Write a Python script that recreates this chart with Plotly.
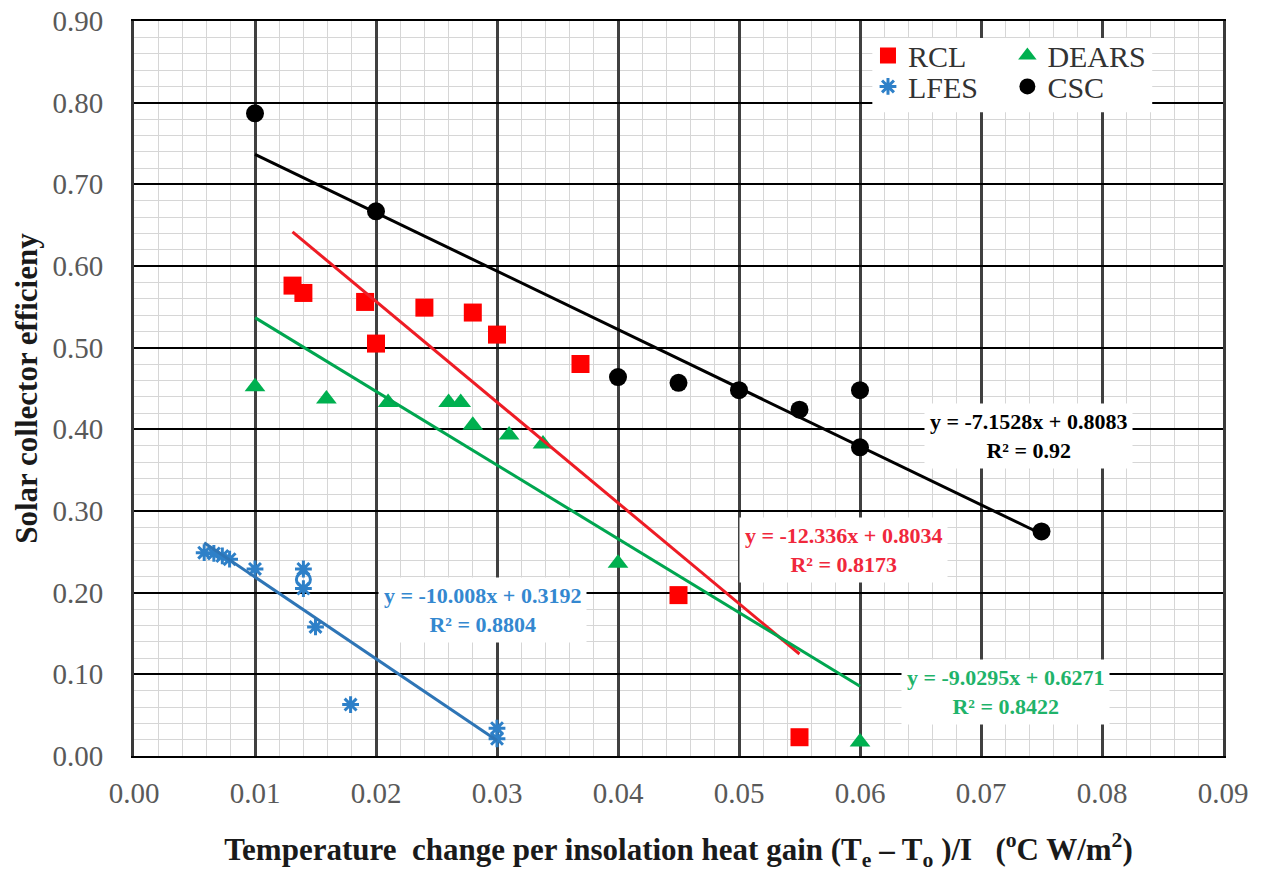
import plotly.graph_objects as go

# ---- measured efficiency data ----
rcl_x = [0.0131, 0.0140, 0.0191, 0.0200, 0.0240, 0.0280, 0.0300, 0.0369, 0.0450, 0.0550]
rcl_y = [0.576, 0.567, 0.556, 0.505, 0.549, 0.543, 0.516, 0.480, 0.197, 0.023]

dears_x = [0.0100, 0.0159, 0.0210, 0.0260, 0.0270, 0.0280, 0.0310, 0.0338, 0.0400, 0.0600]
dears_y = [0.452, 0.437, 0.433, 0.433, 0.433, 0.405, 0.393, 0.382, 0.236, 0.017]

lfes_x = [0.0058, 0.0066, 0.0073, 0.0079, 0.0100, 0.0140, 0.0140, 0.0140, 0.0150, 0.0179, 0.0300, 0.0300]
lfes_y = [0.249, 0.248, 0.245, 0.241, 0.229, 0.229, 0.216, 0.205, 0.158, 0.063, 0.034, 0.021]

csc_x = [0.010, 0.020, 0.040, 0.045, 0.050, 0.055, 0.060, 0.060, 0.075]
csc_y = [0.787, 0.667, 0.464, 0.457, 0.448, 0.424, 0.448, 0.378, 0.275]

# ---- linear trendline coefficients (slope, intercept, R²) ----
rcl_fit = (-12.336, 0.8034, 0.8173)
dears_fit = (-9.0295, 0.6271, 0.8422)
lfes_fit = (-10.008, 0.3192, 0.8804)
csc_fit = (-7.1528, 0.8083, 0.92)

x_ticks = [0.00, 0.01, 0.02, 0.03, 0.04, 0.05, 0.06, 0.07, 0.08, 0.09]
y_ticks = [0.00, 0.10, 0.20, 0.30, 0.40, 0.50, 0.60, 0.70, 0.80, 0.90]

SERIF = "Liberation Serif, Times New Roman, serif"

RED = "#ff0000"
GREEN = "#00b050"
BLUE = "#2e80c8"
BLACK = "#000000"

fig = go.Figure()

# scatter series, one legend block per entry so the 2x2 key can be laid out freely
fig.add_trace(go.Scatter(x=rcl_x, y=rcl_y, mode="markers", name="RCL", legend="legend",
                         marker=dict(symbol="square", size=18, color=RED)))
fig.add_trace(go.Scatter(x=lfes_x, y=lfes_y, mode="markers", name="LFES", legend="legend3",
                         marker=dict(symbol=["asterisk-open"] * 6 + ["circle-open"] + ["asterisk-open"] * 5,
                                     size=14, color=BLUE, line=dict(color=BLUE, width=3))))
fig.add_trace(go.Scatter(x=dears_x, y=dears_y, mode="markers", name="DEARS", legend="legend2",
                         marker=dict(symbol="triangle-up", size=18, color=GREEN)))
fig.add_trace(go.Scatter(x=csc_x, y=csc_y, mode="markers", name="CSC", legend="legend4",
                         marker=dict(symbol="circle", size=18, color=BLACK)))


def trend(xs, fit, color):
    m, b, _ = fit
    x0, x1 = min(xs), max(xs)
    return go.Scatter(x=[x0, x1], y=[m * x0 + b, m * x1 + b], mode="lines",
                      line=dict(color=color, width=3), showlegend=False, hoverinfo="skip")


fig.add_trace(trend(csc_x, csc_fit, BLACK))
fig.add_trace(trend(rcl_x, rcl_fit, "#ee1c25"))
fig.add_trace(trend(dears_x, dears_fit, "#00a650"))
fig.add_trace(trend(lfes_x, lfes_fit, "#2e75b6"))


def eq_label(fit):
    m, b, r2 = fit
    return f"<b>y = {m:g}x + {b:g}<br>R² = {r2:g}</b>"


labels = [
    (csc_fit, 0.0739, 0.392, BLACK),
    (rcl_fit, 0.0586, 0.252, "#f0283c"),
    (lfes_fit, 0.0288, 0.179, "#3488d0"),
    (dears_fit, 0.0720, 0.078, "#1fb36a"),
]
for fit, ax_x, ax_y, col in labels:
    fig.add_annotation(x=ax_x, y=ax_y, text=eq_label(fit), showarrow=False,
                       font=dict(family=SERIF, size=22, color=col),
                       bgcolor="white", borderpad=5, align="center")

# white backing behind the legend block (legends draw on top of it)
fig.add_shape(type="rect", xref="paper", yref="paper", x0=0.678, x1=0.935, y0=0.876, y1=0.977,
              fillcolor="white", line=dict(width=0), layer="above")

legend_style = dict(xanchor="left", yanchor="middle", bgcolor="rgba(0,0,0,0)",
                    font=dict(family=SERIF, size=30, color="#333333"), itemwidth=30)

fig.update_layout(
    width=1261, height=872,
    margin=dict(l=134, r=38, t=21, b=116),
    paper_bgcolor="white", plot_bgcolor="white",
    font=dict(family=SERIF, color="#595959"),
    legend=dict(x=0.674, y=0.953, **legend_style),
    legend2=dict(x=0.802, y=0.953, **legend_style),
    legend3=dict(x=0.674, y=0.911, **legend_style),
    legend4=dict(x=0.802, y=0.911, **legend_style),
    xaxis=dict(
        range=[0, 0.09], tickvals=x_ticks, ticktext=[f"{v:.2f}" for v in x_ticks],
        showgrid=True, gridcolor="#404040", gridwidth=3,
        minor=dict(dtick=0.002, showgrid=True, gridcolor="#d6d6d6", gridwidth=1),
        zeroline=False, showline=True, linecolor="#000000", linewidth=2, mirror=True,
        ticks="", ticklabelstandoff=10, automargin=False,
        tickfont=dict(family=SERIF, size=29, color="#595959"),
        title=dict(text="<b>Temperature  change per insolation heat gain (T<sub>e</sub> – T<sub>o</sub> )/I   "
                        "(<sup>o</sup>C W/m<sup>2</sup>)</b>",
                   font=dict(family=SERIF, size=31, color="#1a1a1a"), standoff=44),
    ),
    yaxis=dict(
        range=[0, 0.9], tickvals=y_ticks, ticktext=[f"{v:.2f}" for v in y_ticks],
        showgrid=True, gridcolor="#000000", gridwidth=2,
        minor=dict(dtick=0.02, showgrid=True, gridcolor="#d6d6d6", gridwidth=1),
        zeroline=False, showline=True, linecolor="#3a3a3a", linewidth=3, mirror=True,
        ticks="", ticklabelstandoff=22, automargin=False,
        tickfont=dict(family=SERIF, size=29, color="#595959"),
        title=dict(text="<b>Solar collector efficieny</b>",
                   font=dict(family=SERIF, size=31, color="#1a1a1a"), standoff=6),
    ),
)

fig.write_html("out.html")
